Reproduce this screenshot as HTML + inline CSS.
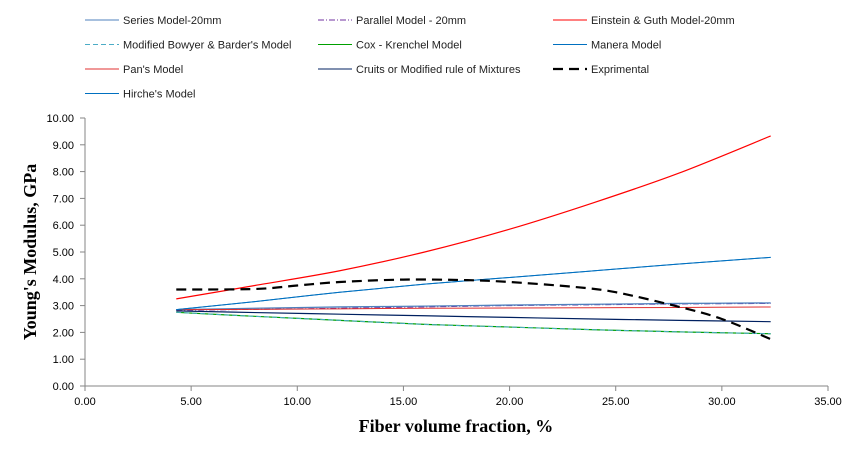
<!DOCTYPE html>
<html><head><meta charset="utf-8"><style>
body{margin:0;background:#fff;}
svg text{font-family:"Liberation Sans",sans-serif;}
</style></head><body>
<svg id="chart" width="861" height="454" xmlns="http://www.w3.org/2000/svg">
<g id="legend"></g>
<g id="grid"></g>
<g id="series"></g>
<text transform="translate(36,252) rotate(-90)" text-anchor="middle" font-weight="bold" font-size="18" style="font-family:'Liberation Serif',serif">Young's Modulus, GPa</text>
<text x="456" y="432" text-anchor="middle" font-weight="bold" font-size="18" style="font-family:'Liberation Serif',serif">Fiber volume fraction, %</text>
</svg>
<script>
const xVals=[4.3,8,12,16,20,24,28,32.3];
const einstein=[3.25,3.75,4.3,5.0,5.85,6.85,7.95,9.33];
const manera=[2.85,3.15,3.5,3.8,4.05,4.3,4.55,4.8];
const hirche=[2.85,3.15,3.5,3.8,4.05,4.3,4.55,4.8];
const seriesModel=[2.85,2.9,2.95,2.98,3.02,3.05,3.08,3.1];
const pans=[2.85,2.86,2.88,2.9,2.91,2.92,2.93,2.95];
const parallel=[2.82,2.86,2.9,2.95,3.0,3.03,3.06,3.08];
const cruits=[2.8,2.74,2.68,2.62,2.56,2.5,2.45,2.4];
const cox=[2.75,2.6,2.45,2.3,2.2,2.1,2.02,1.95];
const bowyer=[2.75,2.6,2.45,2.3,2.2,2.1,2.02,1.95];
const expX=[4.3,8,10,12,15,18,20,23,25,28,30,32.3];
const expY=[3.6,3.62,3.75,3.88,3.97,3.95,3.88,3.7,3.5,2.95,2.5,1.75];
const xTicks=[0,5,10,15,20,25,30,35];
const yTicks=[0,1,2,3,4,5,6,7,8,9,10];
const X=v=>85+v*(828-85)/35, Y=v=>386-v*26.8;
const NS="http://www.w3.org/2000/svg";
function mk(p,t,a){const e=document.createElementNS(NS,t);for(const k in a)e.setAttribute(k,a[k]);p.appendChild(e);return e;}
const g=document.getElementById('grid');
let ax=mk(g,'line',{x1:85,y1:Y(10),x2:85,y2:386,stroke:'#868686'});

ax=mk(g,'line',{x1:85,y1:386,x2:828,y2:386,stroke:'#868686'});

yTicks.forEach(v=>{mk(g,'line',{x1:80,x2:85,y1:Y(v),y2:Y(v),stroke:'#868686'});
 const t=mk(g,'text',{x:74,y:Y(v)+4,'text-anchor':'end','font-size':11});t.textContent=v.toFixed(2);
 });
xTicks.forEach(v=>{mk(g,'line',{x1:X(v),x2:X(v),y1:386,y2:391,stroke:'#868686'});
 const t=mk(g,'text',{x:X(v),y:405,'text-anchor':'middle','font-size':11});t.textContent=v.toFixed(2);
 });
const s=document.getElementById('series');
function line(xs,ys,col,w,dash,name){let d='';
 const P=xs.map((x,i)=>[X(x),Y(ys[i])]);d='M'+P[0];
 for(let i=0;i<P.length-1;i++){const p0=P[i-1]||P[i],p1=P[i],p2=P[i+1],p3=P[i+2]||p2;
  d+=' C'+(p1[0]+(p2[0]-p0[0])/6)+','+(p1[1]+(p2[1]-p0[1])/6)+' '+(p2[0]-(p3[0]-p1[0])/6)+','+(p2[1]-(p3[1]-p1[1])/6)+' '+p2;}
 const e=mk(s,'path',{d:d,fill:'none',stroke:col,'stroke-width':w});if(dash)e.setAttribute('stroke-dasharray',dash);
 }
line(xVals,parallel,'#7030a0',1,'6,2,1,2','parallel-model-line');
line(xVals,seriesModel,'#4f81bd',1.3,null,'series-model-line');
line(xVals,pans,'#e03030',1,null,'pans-model-line');
line(xVals,cruits,'#002060',1.2,null,'cruits-model-line');
line(xVals,cox,'#00a000',1.2,null,'cox-krenchel-line');
line(xVals,bowyer,'#4bacc6',1,'5,3','bowyer-barder-line');
line(xVals,hirche,'#0070c0',1,null,'hirche-model-line');
line(xVals,manera,'#0070c0',1,null,'manera-model-line');
line(xVals,einstein,'#ff0000',1.2,null,'einstein-guth-line');
line(expX,expY,'#000',2.2,'10,6','experimental-line');
const L=document.getElementById('legend');
const items=[['Series Model-20mm','#4f81bd',null,1],['Parallel Model - 20mm','#7030a0','6,2,1,2',1],['Einstein & Guth Model-20mm','#ff0000',null,1],
['Modified Bowyer & Barder\'s Model','#4bacc6','5,3',1],['Cox - Krenchel Model','#00a000',null,1],['Manera Model','#0070c0',null,1],
['Pan\'s Model','#e03030',null,1],['Cruits or Modified rule of Mixtures','#002060',null,1],['Exprimental','#000','10,6',2.2],
['Hirche\'s Model','#0070c0',null,1]];
const cx=[85,318,553];
items.forEach((it,i)=>{const c=i%3,r=Math.floor(i/3),y=20+r*24.5;
 const gg=mk(L,'g',{});
 const ln=mk(gg,'line',{x1:cx[c],x2:cx[c]+34,y1:y,y2:y,stroke:it[1],'stroke-width':it[3]});if(it[2])ln.setAttribute('stroke-dasharray',it[2]);
 const t=mk(gg,'text',{x:cx[c]+38,y:y+4,'font-size':11,fill:'#222',textLength:0});t.removeAttribute('textLength');t.textContent=it[0];});
</script>
</body></html>
